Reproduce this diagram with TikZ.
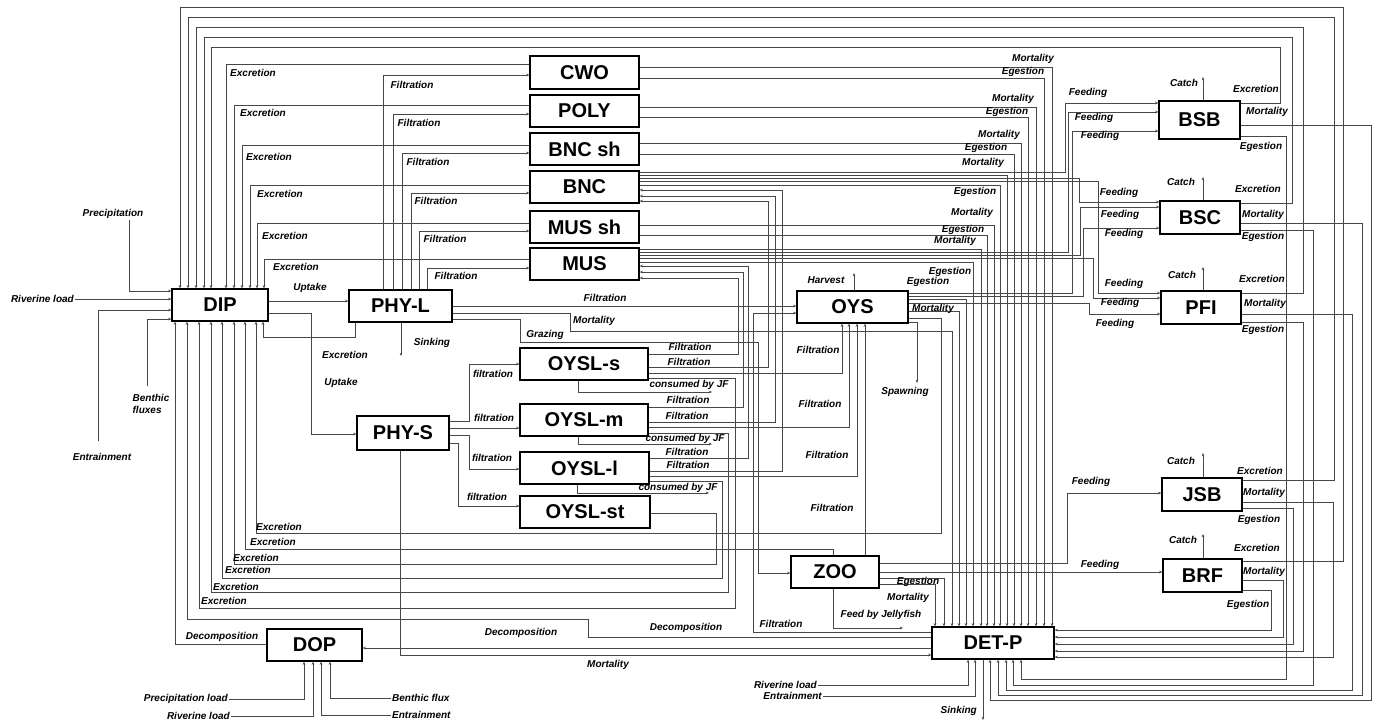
\documentclass[tikz,border=0pt]{standalone}
\usepackage{fontspec}
\setmainfont{Liberation Sans}
\usetikzlibrary{arrows.meta}
\newcommand\lblfont{\fontsize{10}{11.5}\selectfont\bfseries\itshape}
\newcommand\boxfont{\fontsize{20}{22}\selectfont\bfseries}
\begin{document}
\begin{tikzpicture}[x=1pt,y=-1pt,
 box/.style={draw=black,line width=1.3pt,font=\boxfont,inner sep=0pt},
 ln/.style={draw=black!72,line width=0.75pt},
 arr/.style={ln,-{Stealth[length=3.2pt,width=2.6pt]}},
 lbl/.style={font=\lblfont,inner sep=1pt},
]
\useasboundingbox (0,0) rectangle (1378,721);
\fill[white] (0,0) rectangle (1378,721);
% ---------------- boxes
\node[box,minimum width=96pt,minimum height=32pt] (DIP) at (220,305) {DIP};
\node[box,minimum width=103pt,minimum height=32pt] (PHYL) at (400.5,306) {PHY-L};
\node[box,minimum width=92pt,minimum height=34pt] (PHYS) at (403,433) {PHY-S};
\node[box,minimum width=109pt,minimum height=33pt] (CWO) at (584.5,72.5) {CWO};
\node[box,minimum width=109pt,minimum height=32pt] (POLY) at (584.5,111) {POLY};
\node[box,minimum width=109pt,minimum height=32pt] (BNCsh) at (584.5,149) {BNC sh};
\node[box,minimum width=109pt,minimum height=32pt] (BNC) at (584.5,187) {BNC};
\node[box,minimum width=109pt,minimum height=32pt] (MUSsh) at (584.5,227) {MUS sh};
\node[box,minimum width=109pt,minimum height=32pt] (MUS) at (584.5,264) {MUS};
\node[box,minimum width=111pt,minimum height=32pt] (OYS) at (852.5,307) {OYS};
\node[box,minimum width=128pt,minimum height=32pt] (OYSLs) at (584,364) {OYSL-s};
\node[box,minimum width=128pt,minimum height=32pt] (OYSLm) at (584,420) {OYSL-m};
\node[box,minimum width=129pt,minimum height=32pt] (OYSLl) at (584.5,468) {OYSL-l};
\node[box,minimum width=130pt,minimum height=32pt] (OYSLst) at (585,512) {OYSL-st};
\node[box,minimum width=88pt,minimum height=32pt] (ZOO) at (835,572) {ZOO};
\node[box,minimum width=95pt,minimum height=32pt] (DOP) at (314.5,645) {DOP};
\node[box,minimum width=122pt,minimum height=32pt] (DETP) at (993,643) {DET-P};
\node[box,minimum width=81pt,minimum height=38pt] (BSB) at (1199.5,120) {BSB};
\node[box,minimum width=80pt,minimum height=33pt] (BSC) at (1200,217.5) {BSC};
\node[box,minimum width=80pt,minimum height=33pt] (PFI) at (1201,307.5) {PFI};
\node[box,minimum width=80pt,minimum height=33pt] (JSB) at (1202,494.5) {JSB};
\node[box,minimum width=79pt,minimum height=33pt] (BRF) at (1202.5,575.5) {BRF};
% ---------------- end labels
\node[lbl,anchor=east] (lRiv) at (75,299) {Riverine load};
\node[lbl] (lPrec) at (113,214) {Precipitation};
\node[lbl,align=left] (lBen) at (151,404) {Benthic\\fluxes};
\node[lbl] (lEnt) at (102,457) {Entrainment};
\node[lbl,anchor=east] (lPL) at (229,699) {Precipitation load};
\node[lbl,anchor=east] (lRL) at (231,716) {Riverine load};
\node[lbl,anchor=west] (lBF) at (391,698) {Benthic flux};
\node[lbl,anchor=west] (lEn) at (391,715) {Entrainment};
\node[lbl,anchor=east] (lRL2) at (818,685) {Riverine load};
\node[lbl,anchor=east] (lEn2) at (823,696) {Entrainment};
% ---------------- DIP inputs
\draw[arr] (lRiv.east) -- (DIP.west|-lRiv.east);
\draw[arr] (lPrec.south-|129,0) |- (DIP.west|-0,291);
\draw[arr] (98,441) |- (DIP.west|-0,310);
\draw[arr] (147,386) |- (DIP.west|-0,319);
% fish excretion
\draw[arr] (BRF.east|-0,561) -| (1343,7) -| (180,0|-DIP.north);
\draw[arr] (JSB.east|-0,480) -| (1334,17) -| (188,0|-DIP.north);
\draw[arr] (PFI.east|-0,293) -| (1303,27) -| (196,0|-DIP.north);
\draw[arr] (BSC.east|-0,203) -| (1292,37) -| (204,0|-DIP.north);
\draw[arr] (BSB.east|-0,103) -| (1280,47) -| (211,0|-DIP.north);
% benthic excretion
\draw[arr] (CWO.west|-0,64) -| (226,0|-DIP.north);
\draw[arr] (POLY.west|-0,105) -| (234,0|-DIP.north);
\draw[arr] (BNCsh.west|-0,145) -| (242,0|-DIP.north);
\draw[arr] (BNC.west|-0,185) -| (250,0|-DIP.north);
\draw[arr] (MUSsh.west|-0,223) -| (257,0|-DIP.north);
\draw[arr] (MUS.west|-0,259) -| (264,0|-DIP.north);
% PHY-L filtration
\draw[arr] (383,0|-PHYL.north) |- (CWO.west|-0,75);
\draw[arr] (393,0|-PHYL.north) |- (POLY.west|-0,114);
\draw[arr] (402,0|-PHYL.north) |- (BNCsh.west|-0,153);
\draw[arr] (411,0|-PHYL.north) |- (BNC.west|-0,193);
\draw[arr] (419,0|-PHYL.north) |- (MUSsh.west|-0,231);
\draw[arr] (427,0|-PHYL.north) |- (MUS.west|-0,268);
% DIP - PHY
\draw[arr] (DIP.east|-0,301) -- (PHYL.west|-0,301);
\draw[arr] (DIP.east|-0,313) -| (311,434) -- (PHYS.west|-0,434);
\draw[arr] (355,0|-PHYL.south) |- (263,337) -- (263,0|-DIP.south);
\draw[arr] (401,0|-PHYL.south) -- (401,356);
% PHY-L right
\draw[arr] (PHYL.east|-0,306) -- (OYS.west|-0,306);
\draw[arr] (PHYL.east|-0,313) -| (570,331) -| (952,0|-DETP.north);
\draw[arr] (PHYL.east|-0,319) -| (520,342) -| (758,573) -- (ZOO.west|-0,573);
% PHY-S
\draw[arr] (PHYS.east|-0,421) -| (469,364) -- (OYSLs.west|-0,364);
\draw[arr] (PHYS.east|-0,428) -- (OYSLm.west|-0,428);
\draw[arr] (PHYS.east|-0,435) -| (469,469) -- (OYSLl.west|-0,469);
\draw[arr] (PHYS.east|-0,443) -| (458,506) -- (OYSLst.west|-0,506);
\draw[arr] (400,0|-PHYS.south) |- (DETP.west|-0,655);
% DOP and decomposition
\draw[arr] (DOP.west|-0,644) -| (175,0|-DIP.south);
\draw[arr] (DETP.west|-0,648) -- (DOP.east|-0,648);
\draw[arr] (DETP.west|-0,637) -| (588,619) -| (187,0|-DIP.south);
\draw[arr] (DETP.west|-0,632) -| (753,313) -- (OYS.west|-0,313);
\draw[arr] (lPL.east) -| (304,0|-DOP.south);
\draw[arr] (lRL.east) -| (313,0|-DOP.south);
\draw[arr] (lEn.west) -| (321,0|-DOP.south);
\draw[arr] (lBF.west) -| (330,0|-DOP.south);
% OYSL
\draw[arr] (OYSLs.east|-0,354) -| (738,278) -- (MUS.east|-0,278);
\draw[arr] (OYSLs.east|-0,367) -| (768,201) -- (BNC.east|-0,201);
\draw[arr] (OYSLs.east|-0,373) -| (842,0|-OYS.south);
\draw[arr] (OYSLs.east|-0,378) -| (735,608) -| (199,0|-DIP.south);
\draw[arr] (578,0|-OYSLs.south) |- (712,392);
\draw[arr] (OYSLm.east|-0,407) -| (743,272) -- (MUS.east|-0,272);
\draw[arr] (OYSLm.east|-0,422) -| (775,196) -- (BNC.east|-0,196);
\draw[arr] (OYSLm.east|-0,427) -| (849,0|-OYS.south);
\draw[arr] (OYSLm.east|-0,433) -| (728,592) -| (211,0|-DIP.south);
\draw[arr] (578,0|-OYSLm.south) |- (712,444);
\draw[arr] (OYSLl.east|-0,458) -| (748,266) -- (MUS.east|-0,266);
\draw[arr] (OYSLl.east|-0,471) -| (782,190) -- (BNC.east|-0,190);
\draw[arr] (OYSLl.east|-0,476) -| (857,0|-OYS.south);
\draw[arr] (OYSLl.east|-0,481) -| (722,578) -| (222,0|-DIP.south);
\draw[arr] (577,0|-OYSLl.south) |- (709,493);
\draw[arr] (OYSLst.east|-0,513) -| (716,564) -| (234,0|-DIP.south);
% OYS
\draw[arr] (865,0|-ZOO.north) -- (865,0|-OYS.south);
\draw[arr] (854,0|-OYS.north) -- (854,273);
\draw[arr] (OYS.east|-0,322) -| (917,383);
\draw[arr] (OYS.east|-0,318) -| (941,533) -| (256,0|-DIP.south);
\draw[arr] (OYS.east|-0,311) -| (959,0|-DETP.north);
\draw[arr] (OYS.east|-0,299) -| (966,0|-DETP.north);
\draw[arr] (OYS.east|-0,293) -| (1072,131) -- (BSB.west|-0,131);
\draw[arr] (OYS.east|-0,296) -| (1083,228) -- (BSC.west|-0,228);
\draw[arr] (OYS.east|-0,303) -| (1089,314) -- (PFI.west|-0,314);
% benthos to DET-P
\draw[arr] (CWO.east|-0,67) -| (1052,0|-DETP.north);
\draw[arr] (CWO.east|-0,78) -| (1044,0|-DETP.north);
\draw[arr] (POLY.east|-0,107) -| (1036,0|-DETP.north);
\draw[arr] (POLY.east|-0,117) -| (1028,0|-DETP.north);
\draw[arr] (BNCsh.east|-0,143) -| (1021,0|-DETP.north);
\draw[arr] (BNCsh.east|-0,154) -| (1014,0|-DETP.north);
\draw[arr] (BNC.east|-0,175) -| (1007,0|-DETP.north);
\draw[arr] (BNC.east|-0,185) -| (1000,0|-DETP.north);
\draw[arr] (MUSsh.east|-0,225) -| (994,0|-DETP.north);
\draw[arr] (MUSsh.east|-0,235) -| (987,0|-DETP.north);
\draw[arr] (MUS.east|-0,249) -| (981,0|-DETP.north);
\draw[arr] (MUS.east|-0,262) -| (973,0|-DETP.north);
\draw[arr] (ZOO.east|-0,578) -| (944,0|-DETP.north);
\draw[arr] (ZOO.east|-0,584) -| (935,0|-DETP.north);
% feeding
\draw[arr] (BNC.east|-0,172) -| (1065,103) -- (BSB.west|-0,103);
\draw[arr] (MUS.east|-0,252) -| (1068,112) -- (BSB.west|-0,112);
\draw[arr] (BNC.east|-0,178) -| (1079,202) -- (BSC.west|-0,202);
\draw[arr] (MUS.east|-0,255) -| (1080,207) -- (BSC.west|-0,207);
\draw[arr] (BNC.east|-0,181) -| (1098,293) -- (PFI.west|-0,293);
\draw[arr] (MUS.east|-0,258) -| (1093,298) -- (PFI.west|-0,298);
\draw[arr] (ZOO.east|-0,563) -| (1067,493) -- (JSB.west|-0,493);
\draw[arr] (ZOO.east|-0,572) -- (BRF.west|-0,572);
% ZOO
\draw[arr] (833,0|-ZOO.south) |- (903,628);
\draw[arr] (833,0|-ZOO.north) |- (245,549) -- (245,0|-DIP.south);
% fish to DET-P
\draw[arr] (BSB.east|-0,125) -| (1371,700) -| (990,0|-DETP.south);
\draw[arr] (BSB.east|-0,136) -| (1286,679) -| (1021,0|-DETP.south);
\draw[arr] (BSC.east|-0,223) -| (1362,695) -| (998,0|-DETP.south);
\draw[arr] (BSC.east|-0,230) -| (1313,685) -| (1013,0|-DETP.south);
\draw[arr] (PFI.east|-0,314) -| (1352,690) -| (1006,0|-DETP.south);
\draw[arr] (PFI.east|-0,322) -| (1303,651) -- (DETP.east|-0,651);
\draw[arr] (JSB.east|-0,502) -| (1333,657) -- (DETP.east|-0,657);
\draw[arr] (JSB.east|-0,508) -| (1293,644) -- (DETP.east|-0,644);
\draw[arr] (BRF.east|-0,580) -| (1283,637) -- (DETP.east|-0,637);
\draw[arr] (BRF.east|-0,590) -| (1271,630) -- (DETP.east|-0,630);
% catch
\draw[arr] (1203,0|-BSB.north) -- (1203,77);
\draw[arr] (1203,0|-BSC.north) -- (1203,177);
\draw[arr] (1203,0|-PFI.north) -- (1203,267);
\draw[arr] (1203,0|-JSB.north) -- (1203,453);
\draw[arr] (1203,0|-BRF.north) -- (1203,534);
% DET-P bottom
\draw[arr] (lRL2.east) -| (968,0|-DETP.south);
\draw[arr] (lEn2.east) -| (975,0|-DETP.south);
\draw[arr] (983,0|-DETP.south) -- (983,720);
% ---------------- flow labels
\node[lbl] (t1) at (253,73) {Excretion};
\node[lbl] (t2) at (263,113) {Excretion};
\node[lbl] (t3) at (269,157) {Excretion};
\node[lbl] (t4) at (280,194) {Excretion};
\node[lbl] (t5) at (285,236) {Excretion};
\node[lbl] (t6) at (296,267) {Excretion};
\node[lbl] (f1) at (412,85) {Filtration};
\node[lbl] (f2) at (419,123) {Filtration};
\node[lbl] (f3) at (428,162) {Filtration};
\node[lbl] (f4) at (436,201) {Filtration};
\node[lbl] (f5) at (445,239) {Filtration};
\node[lbl] (f6) at (456,276) {Filtration};
\node[lbl] (u1) at (310,288) {Uptake};
\node[lbl] (e0) at (345,355) {Excretion};
\node[lbl] (u2) at (341,383) {Uptake};
\node[lbl] (s1) at (432,343) {Sinking};
\node[lbl] (f7) at (605,298) {Filtration};
\node[lbl] (m1) at (594,321) {Mortality};
\node[lbl] (g1) at (545,335) {Grazing};
\node[lbl] (f8) at (690,347) {Filtration};
\node[lbl] (f9) at (689,362) {Filtration};
\node[lbl] (c1) at (689,385) {consumed by JF};
\node[lbl] (f10) at (688,400) {Filtration};
\node[lbl] (f11) at (687,416) {Filtration};
\node[lbl] (c2) at (685,439) {consumed by JF};
\node[lbl] (f12) at (687,452) {Filtration};
\node[lbl] (f13) at (688,465) {Filtration};
\node[lbl] (c3) at (678,488) {consumed by JF};
\node[lbl] (p1) at (493,374) {filtration};
\node[lbl] (p2) at (494,418) {filtration};
\node[lbl] (p3) at (492,458) {filtration};
\node[lbl] (p4) at (487,497) {filtration};
\node[lbl] (f14) at (818,350) {Filtration};
\node[lbl] (f15) at (820,404) {Filtration};
\node[lbl] (f16) at (827,455) {Filtration};
\node[lbl] (f17) at (832,508) {Filtration};
\node[lbl] (sp) at (905,392) {Spawning};
\node[lbl] (hv) at (826,280) {Harvest};
\node[lbl] (o1) at (950,272) {Egestion};
\node[lbl] (o2) at (928,282) {Egestion};
\node[lbl] (o3) at (933,309) {Mortality};
\node[lbl] (b1) at (1033,59) {Mortality};
\node[lbl] (b2) at (1023,72) {Egestion};
\node[lbl] (b3) at (1013,99) {Mortality};
\node[lbl] (b4) at (1007,112) {Egestion};
\node[lbl] (b5) at (999,135) {Mortality};
\node[lbl] (b6) at (986,148) {Egestion};
\node[lbl] (b7) at (983,163) {Mortality};
\node[lbl] (b8) at (975,192) {Egestion};
\node[lbl] (b9) at (972,213) {Mortality};
\node[lbl] (b10) at (963,230) {Egestion};
\node[lbl] (b11) at (955,241) {Mortality};
% fish labels
\node[lbl] (k1) at (1184,83) {Catch};
\node[lbl] (k2) at (1181,182) {Catch};
\node[lbl] (k3) at (1182,275) {Catch};
\node[lbl] (k4) at (1181,461) {Catch};
\node[lbl] (k5) at (1183,540) {Catch};
\node[lbl] (x1) at (1256,89) {Excretion};
\node[lbl] (x2) at (1258,189) {Excretion};
\node[lbl] (x3) at (1262,279) {Excretion};
\node[lbl] (x4) at (1260,471) {Excretion};
\node[lbl] (x5) at (1257,548) {Excretion};
\node[lbl] (y1) at (1267,112) {Mortality};
\node[lbl] (y2) at (1263,215) {Mortality};
\node[lbl] (y3) at (1265,304) {Mortality};
\node[lbl] (y4) at (1264,493) {Mortality};
\node[lbl] (y5) at (1264,572) {Mortality};
\node[lbl] (z1) at (1261,147) {Egestion};
\node[lbl] (z2) at (1263,237) {Egestion};
\node[lbl] (z3) at (1263,330) {Egestion};
\node[lbl] (z4) at (1259,520) {Egestion};
\node[lbl] (z5) at (1248,605) {Egestion};
\node[lbl] (d1) at (1088,93) {Feeding};
\node[lbl] (d2) at (1094,118) {Feeding};
\node[lbl] (d3) at (1100,136) {Feeding};
\node[lbl] (d4) at (1119,193) {Feeding};
\node[lbl] (d5) at (1120,215) {Feeding};
\node[lbl] (d6) at (1124,234) {Feeding};
\node[lbl] (d7) at (1124,284) {Feeding};
\node[lbl] (d8) at (1120,303) {Feeding};
\node[lbl] (d9) at (1115,324) {Feeding};
\node[lbl] (d10) at (1091,482) {Feeding};
\node[lbl] (d11) at (1100,565) {Feeding};
% ZOO / DET-P labels
\node[lbl] (q1) at (918,582) {Egestion};
\node[lbl] (q2) at (908,598) {Mortality};
\node[lbl] (q3) at (881,615) {Feed by Jellyfish};
\node[lbl] (q4) at (781,624) {Filtration};
\node[lbl] (q5) at (686,628) {Decomposition};
\node[lbl] (q6) at (521,633) {Decomposition};
\node[lbl] (q7) at (608,665) {Mortality};
\node[lbl] (q8) at (222,637) {Decomposition};
\node[lbl,anchor=east] (q9) at (978,711) {Sinking};
% bottom excretion
\node[lbl] (w1) at (279,527) {Excretion};
\node[lbl] (w2) at (273,542) {Excretion};
\node[lbl] (w3) at (256,558) {Excretion};
\node[lbl] (w4) at (248,570) {Excretion};
\node[lbl] (w5) at (236,587) {Excretion};
\node[lbl] (w6) at (224,601) {Excretion};
\end{tikzpicture}
\end{document}
